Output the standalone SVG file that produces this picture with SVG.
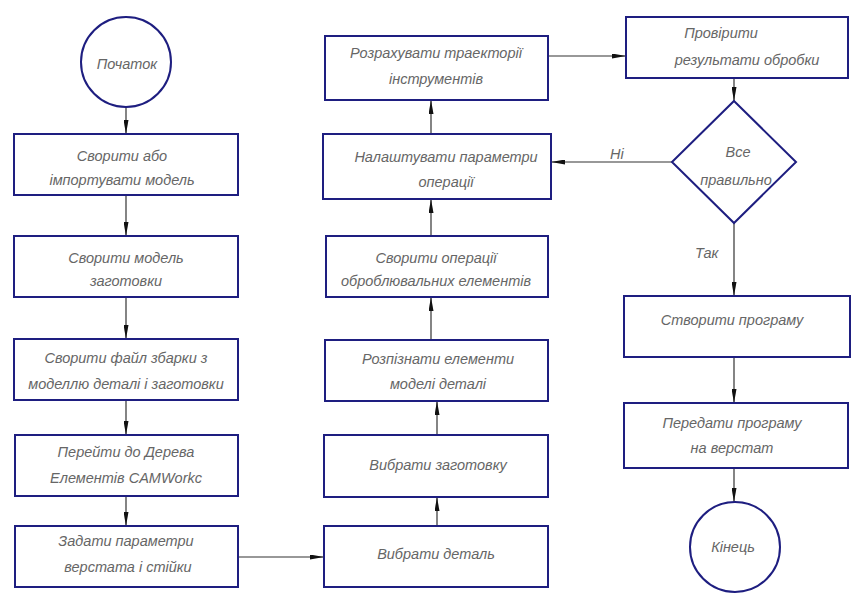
<svg xmlns="http://www.w3.org/2000/svg" width="851" height="595" viewBox="0 0 851 595">
<style>
.box{fill:#fff;stroke:#1e1e80;stroke-width:2}
.t{font-family:"Liberation Sans",Arial,sans-serif;font-style:italic;font-size:14.5px;fill:#666;text-anchor:middle}
.c{fill:none;stroke:#333;stroke-width:1.2;marker-end:url(#ah)}
.lbl{font-family:"Liberation Sans",Arial,sans-serif;font-style:italic;font-size:14.5px;fill:#666}
</style>
<defs>
<marker id="ah" markerUnits="userSpaceOnUse" viewBox="0 0 14 5" markerWidth="14" markerHeight="5" refX="14" refY="2.5" orient="auto">
<path d="M0,0 L14,2.5 L0,5 z" fill="#111"/>
</marker>
</defs>
<rect width="851" height="595" fill="#fff"/>
<g id="connectors">
<line class="c" x1="126" y1="108" x2="126" y2="134"/>
<line class="c" x1="126" y1="195" x2="126" y2="236"/>
<line class="c" x1="126" y1="297" x2="126" y2="339"/>
<line class="c" x1="126" y1="400" x2="126" y2="435"/>
<line class="c" x1="126" y1="496" x2="126" y2="526"/>
<line class="c" x1="238" y1="557" x2="324" y2="557"/>
<line class="c" x1="437" y1="526" x2="437" y2="497"/>
<line class="c" x1="437" y1="435" x2="437" y2="401"/>
<line class="c" x1="431" y1="340" x2="431" y2="297"/>
<line class="c" x1="431" y1="236" x2="431" y2="199"/>
<line class="c" x1="431" y1="134" x2="431" y2="100"/>
<line class="c" x1="548" y1="56" x2="626" y2="56"/>
<line class="c" x1="734" y1="78" x2="734" y2="101"/>
<line class="c" x1="672" y1="162" x2="551" y2="162"/>
<line class="c" x1="734" y1="223" x2="734" y2="296"/>
<line class="c" x1="734" y1="357" x2="734" y2="403"/>
<line class="c" x1="734" y1="468" x2="734" y2="502"/>
<text class="lbl" x="610" y="159">Ні</text>
<text class="lbl" x="695" y="258">Так</text>
</g>
<g id="start"><circle class="box" cx="126" cy="62" r="45"/><text class="t" x="127" y="69">Початок</text></g>
<g id="n1"><rect class="box" x="14" y="134" width="224" height="61"/><text class="t" x="122" y="161">Сворити або</text><text class="t" x="122" y="185">імпортувати модель</text></g>
<g id="n2"><rect class="box" x="14" y="236" width="224" height="61"/><text class="t" x="126" y="263">Сворити модель</text><text class="t" x="126" y="286">заготовки</text></g>
<g id="n3"><rect class="box" x="14" y="339" width="224" height="61"/><text class="t" x="126" y="363">Сворити файл збарки з</text><text class="t" x="126" y="389">моделлю деталі і заготовки</text></g>
<g id="n4"><rect class="box" x="15" y="435" width="223" height="61"/><text class="t" x="126" y="457">Перейти до Дерева</text><text class="t" x="126" y="483">Елементів CAMWorkc</text></g>
<g id="n5"><rect class="box" x="15" y="526" width="223" height="61"/><text class="t" x="126" y="546">Задати параметри</text><text class="t" x="128" y="572">верстата і стійки</text></g>
<g id="n6"><rect class="box" x="324" y="526" width="224" height="61"/><text class="t" x="436" y="559">Вибрати деталь</text></g>
<g id="n7"><rect class="box" x="324" y="435" width="224" height="62"/><text class="t" x="438" y="470">Вибрати заготовку</text></g>
<g id="n8"><rect class="box" x="325" y="340" width="223" height="61"/><text class="t" x="438" y="364">Розпізнати елементи</text><text class="t" x="438" y="389">моделі деталі</text></g>
<g id="n9"><rect class="box" x="326" y="236" width="222" height="61"/><text class="t" x="436" y="263">Сворити операції</text><text class="t" x="436" y="286">оброблювальних елементів</text></g>
<g id="n10"><rect class="box" x="323" y="134" width="228" height="65"/><text class="t" x="446" y="162">Налаштувати параметри</text><text class="t" x="446" y="187">операції</text></g>
<g id="n11"><rect class="box" x="325" y="36" width="223" height="64"/><text class="t" x="436" y="58">Розрахувати траекторії</text><text class="t" x="436" y="84">інструментів</text></g>
<g id="n12"><rect class="box" x="626" y="17" width="222" height="61"/><text class="t" x="721" y="38">Провірити</text><text class="t" x="747" y="65">результати обробки</text></g>
<g id="d1"><polygon class="box" points="734,101 796,162 734,223 672,162"/><text class="t" x="738" y="157">Все</text><text class="t" x="736" y="185">правильно</text></g>
<g id="n13"><rect class="box" x="624" y="296" width="226" height="61"/><text class="t" x="732" y="325">Створити програму</text></g>
<g id="n14"><rect class="box" x="624" y="403" width="224" height="65"/><text class="t" x="732" y="428">Передати програму</text><text class="t" x="732" y="453">на верстат</text></g>
<g id="end"><circle class="box" cx="735" cy="547" r="45"/><text class="t" x="733" y="552">Кінець</text></g>
</svg>
